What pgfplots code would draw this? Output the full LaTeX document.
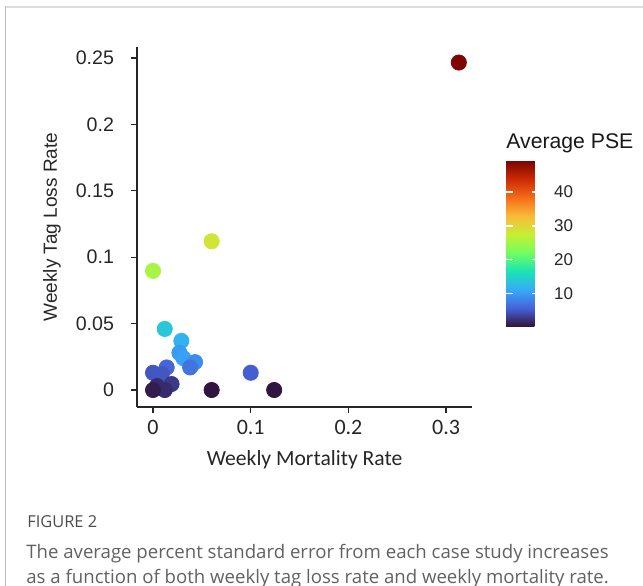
\documentclass[border=0pt]{standalone}
\usepackage{fontspec}
\setmainfont{Liberation Sans}
\newfontfamily\carlito{Carlito}
\newfontfamily\opensans{Open Sans}
\usepackage{pgfplots}
\pgfplotsset{compat=1.18}

% turbo-like palette
\pgfplotsset{
  colormap={turbo}{
    rgb255(0cm)=(48,18,59) rgb255(1cm)=(70,98,215) rgb255(2cm)=(54,170,249)
    rgb255(3cm)=(26,228,182) rgb255(4cm)=(114,254,94) rgb255(5cm)=(199,239,52)
    rgb255(6cm)=(250,186,57) rgb255(7cm)=(246,107,25) rgb255(8cm)=(203,42,4)
    rgb255(9cm)=(122,4,3)
  },
}

% x, y, average PSE
\pgfplotstableread{
x      y       pse
0.313  0.2466  49
0.060  0.1120  28.5
0.000  0.0897  25.5
0.012  0.0460  14
0.029  0.0370  12
0.027  0.0280  10
0.031  0.0240  10.5
0.043  0.0210  9
0.038  0.0170  7
0.100  0.0130  5.5
0.000  0.0130  5
0.014  0.0170  6
0.009  0.0120  5
0.019  0.0045  3
0.012  0.0000  2
0.004  0.0030  2
0.000  0.0000  1
0.060  0.0000  0.5
0.124  0.0000  0.5
}\psedata

\begin{document}
\begin{tikzpicture}[x=0.5bp, y=-0.5bp]
\path[use as bounding box] (0,0) rectangle (643,586);
\draw[color=black!13, line width=1bp] (5,7) -- (643,7);
\draw[color=black!25, line width=0.5bp] (5.5,6) -- (5.5,586);

\begin{axis}[
  at={(68.5bp,-203.5bp)}, anchor=south west,
  scale only axis, width=167.5bp, height=180bp,
  xmin=-0.0164, xmax=0.3265, ymin=-0.0128, ymax=0.2583,
  axis lines*=left,
  axis line style={black!85, line width=0.65bp},
  tick align=outside, major tick length=3bp,
  tick style={black!85, line width=0.65bp},
  xtick={0,0.1,0.2,0.3}, xticklabels={0,0.1,0.2,0.3},
  ytick={0,0.05,0.1,0.15,0.2,0.25},
  yticklabels={0,0.05,0.1,0.15,0.2,0.25},
  xticklabel style={font=\carlito\fontsize{11bp}{13bp}\selectfont, text=black!85},
  yticklabel style={font=\fontsize{9.8bp}{11bp}\selectfont, text=black!85, xshift=-5bp},
  xlabel={Weekly Mortality Rate},
  ylabel={Weekly Tag Loss Rate},
  xlabel style={at={(axis description cs:0.5,-0.147)}, anchor=center,
    font=\carlito\fontsize{10.8bp}{12bp}\selectfont, text=black!85},
  ylabel style={at={(axis description cs:-0.254,0.5)}, anchor=center, rotate=0,
    font=\fontsize{9.5bp}{11bp}\selectfont, text=black!85},
  colormap name=turbo,
  point meta min=0.3, point meta max=49.3,
  colorbar,
  colorbar style={
    at={(parent axis.north east)}, anchor=north west,
    xshift=8.5bp, yshift=-56.75bp,
    width=16.5bp, height=83bp,
    ytick={10,20,30,40}, yticklabels={10,20,30,40},
    ytick pos=both, yticklabel pos=right,
    tick align=inside, major tick length=3.5bp,
    ytick style={white, line width=0.7bp},
    axis line style={draw=none},
    yticklabel style={font=\fontsize{8.5bp}{10bp}\selectfont, text=black!85, xshift=4bp},
    title={Average PSE},
    title style={at={(0,1)}, anchor=base west, yshift=0.25bp, inner sep=0pt,
      font=\fontsize{10.6bp}{12bp}\selectfont, text=black!90},
  },
]
\addplot[scatter, only marks, mark=*, mark size=3.8bp,
  scatter/use mapped color={draw=mapped color, fill=mapped color},
  point meta=explicit] table[x=x, y=y, meta=pse] {\psedata};
\end{axis}

\node[anchor=base west, inner sep=0pt, text=black!70,
  font=\opensans\fontsize{8.2bp}{9bp}\selectfont] at (27,527) {FIGURE 2};
\node[anchor=base west, inner sep=0pt, text=black!62,
  font=\opensans\fontsize{9.3bp}{11bp}\selectfont] at (26,558.5)
  {The average percent standard error from each case study increases};
\node[anchor=base west, inner sep=0pt, text=black!62,
  font=\opensans\fontsize{9.3bp}{11bp}\selectfont] at (26,583)
  {as a function of both weekly tag loss rate and weekly mortality rate.};
\end{tikzpicture}
\end{document}
